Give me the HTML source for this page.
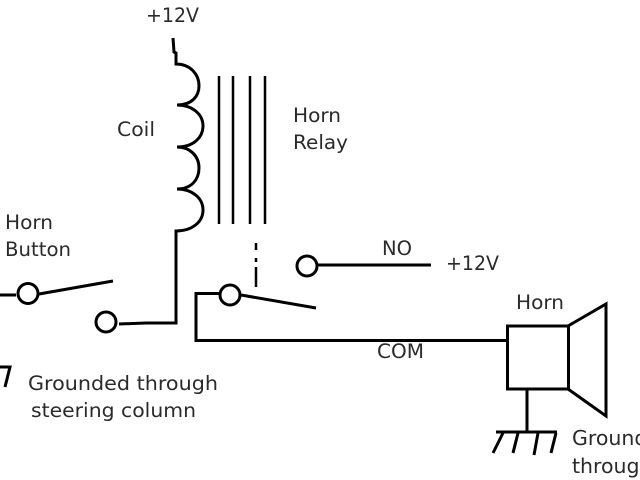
<!DOCTYPE html>
<html>
<head>
<meta charset="utf-8">
<style>
html,body{margin:0;padding:0;background:#fff;width:640px;height:480px;overflow:hidden}
svg{display:block}
text{font-family:"DejaVu Sans","Liberation Sans",sans-serif;font-size:19.5px;fill:#2a2a2a}
.l{fill:none;stroke:#000;stroke-width:3}
.t{fill:none;stroke:#000;stroke-width:2.5}
</style>
</head>
<body>
<svg width="640" height="480" viewBox="0 0 640 480" xmlns="http://www.w3.org/2000/svg">
<text x="146" y="22" textLength="53" lengthAdjust="spacingAndGlyphs">+12V</text>
<text x="117" y="136" textLength="38" lengthAdjust="spacingAndGlyphs">Coil</text>
<text x="293" y="122" textLength="48" lengthAdjust="spacingAndGlyphs">Horn</text>
<text x="293" y="149" textLength="55" lengthAdjust="spacingAndGlyphs">Relay</text>
<text x="5" y="229" textLength="48" lengthAdjust="spacingAndGlyphs">Horn</text>
<text x="5" y="256" textLength="66" lengthAdjust="spacingAndGlyphs">Button</text>
<text x="382" y="255" textLength="30" lengthAdjust="spacingAndGlyphs">NO</text>
<text x="446" y="270" textLength="53" lengthAdjust="spacingAndGlyphs">+12V</text>
<text x="516" y="309" textLength="48" lengthAdjust="spacingAndGlyphs">Horn</text>
<text x="377" y="358" textLength="47" lengthAdjust="spacingAndGlyphs">COM</text>
<text x="28" y="390" textLength="190" lengthAdjust="spacingAndGlyphs">Grounded through</text>
<text x="31" y="417" textLength="165" lengthAdjust="spacingAndGlyphs">steering column</text>
<text x="572" y="445" style="font-size:20.5px">Grounded</text>
<text x="572" y="473" style="font-size:20.5px">through</text>

<!-- coil -->
<path class="l" d="M173 38 L174 52 L176 53 L176 64 C190 64 199 74 199 86 C199 96 192 105 177 105 C192 105 203 114 203 126 C203 137 194 147 177 147 C190 147 199 156 199 168 C199 179 192 189 177 189 C192 189 203 198 203 210 C203 222 192 231 176 231 L176 323 L146 323 L119 324"/>

<!-- core -->
<path class="t" d="M219 76V224M233 76V224M250 76V224M265 76V224"/>

<!-- horn button -->
<path class="l" d="M0 295H16"/>
<circle class="l" cx="28" cy="293.500" r="10"/>
<path class="l" d="M39 294L113 281"/>
<circle class="l" cx="106" cy="322" r="10"/>

<!-- relay contact -->
<path class="l" d="M219 293.500H196V342"/>
<path class="l" d="M196 340.500H507"/>
<circle class="l" cx="230" cy="295" r="10"/>
<path class="l" d="M241 295L316 308"/>
<path class="t" d="M256 243V250M256 258V262M256 267V287"/>
<circle class="l" cx="307" cy="266" r="10"/>
<path class="l" d="M318 265H431"/>

<!-- horn -->
<rect class="l" x="507.500" y="326" width="61" height="63"/>
<path class="l" d="M568 326L606 304V416L568 389"/>
<path class="l" d="M527 389V432"/>
<path class="l" d="M496 432H557"/>
<path class="l" d="M503 433L493 453M518 433L513 453M538 433L534 455M556 433L551 453"/>

<!-- partial ground at left -->
<path class="l" d="M0 367H10L5 387"/>
</svg>
</body>
</html>
